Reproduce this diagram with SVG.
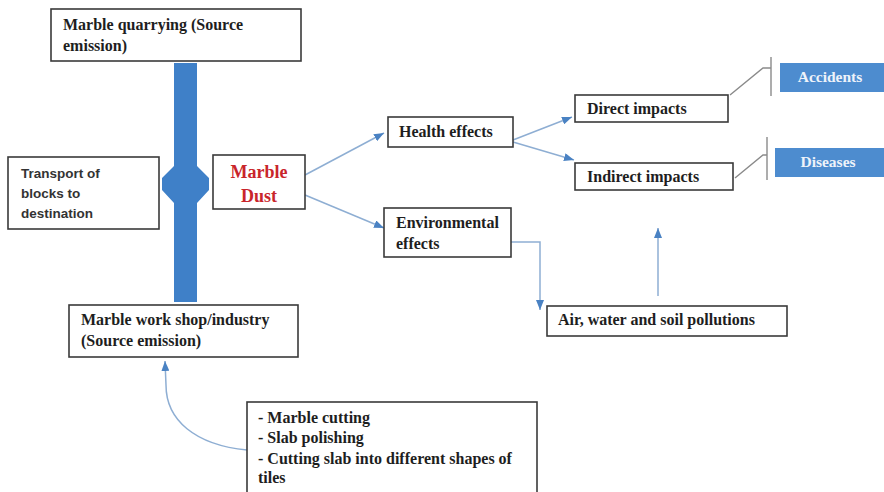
<svg xmlns="http://www.w3.org/2000/svg" width="884" height="492" viewBox="0 0 884 492">
<defs>
<style>
.box{fill:#ffffff;stroke:#3a3a3a;stroke-width:1.6}
.blue{fill:#4d8ccf;stroke:none}
.t{font-family:"Liberation Serif","Times New Roman",serif;font-weight:bold;font-size:16px;fill:#1e1e1e}
.s{font-family:"Liberation Sans",Arial,sans-serif;font-weight:bold;font-size:13.5px;fill:#333333}
.w{font-family:"Liberation Serif","Times New Roman",serif;font-weight:bold;font-size:15.5px;fill:#eef3fa;text-anchor:middle}
.red{font-family:"Liberation Serif","Times New Roman",serif;font-weight:bold;font-size:18px;fill:#c9252b;text-anchor:middle}
.c{fill:none;stroke:#8eaed3;stroke-width:1.5}
.g{fill:none;stroke:#8a8a8a;stroke-width:1.4}
</style>
<marker id="ah" markerUnits="userSpaceOnUse" markerWidth="10" markerHeight="8" viewBox="0 0 10 10" preserveAspectRatio="none" refX="10" refY="5" orient="auto">
<path d="M0,0 L10,5 L0,10 z" fill="#4a82c3"/>
</marker>
</defs>
<rect width="884" height="492" fill="#ffffff"/>

<g id="transport-bar">
<polygon points="174,63 197,63 197,166 209,178 209,190 197,203 197,302 174,302 174,203 162,190 162,178 174,166" fill="#3f80c8"/>
</g>

<g id="connectors">
<path class="c" d="M305,175 L384,133" marker-end="url(#ah)"/>
<path class="c" d="M305,195 L384,228" marker-end="url(#ah)"/>
<path class="c" d="M513,140 L572,117" marker-end="url(#ah)"/>
<path class="c" d="M513,142 L574,160" marker-end="url(#ah)"/>
<path class="c" d="M511,242 L540,242 L540,310" marker-end="url(#ah)"/>
<path class="c" d="M658,296 L658,228" marker-end="url(#ah)"/>
<path class="c" d="M247,450 C195,445 166,420 166,385 L165,361" marker-end="url(#ah)"/>
<polyline class="g" points="730,95 763,68 771,68"/>
<line class="g" x1="771" y1="57" x2="771" y2="96"/>
<polyline class="g" points="735,178 763,155 767,155"/>
<line class="g" x1="767" y1="137" x2="767" y2="180"/>
</g>

<g id="quarrying">
<rect class="box" x="51" y="9" width="250" height="52"/>
<text class="t" x="63" y="30">Marble quarrying (Source</text>
<text class="t" x="63" y="51">emission)</text>
</g>

<g id="transport">
<rect class="box" x="8" y="157" width="151" height="72"/>
<text class="s" x="21" y="178">Transport of</text>
<text class="s" x="21" y="198">blocks to</text>
<text class="s" x="21" y="218">destination</text>
</g>

<g id="marble-dust">
<rect class="box" x="213" y="155" width="92" height="54"/>
<text class="red" x="259" y="178">Marble</text>
<text class="red" x="259" y="202">Dust</text>
</g>

<g id="workshop">
<rect class="box" x="69" y="305" width="229" height="52"/>
<text class="t" x="81" y="325">Marble work shop/industry</text>
<text class="t" x="81" y="346">(Source emission)</text>
</g>

<g id="processes">
<rect class="box" x="247" y="402" width="290" height="100"/>
<text class="t" x="258" y="423">- Marble cutting</text>
<text class="t" x="258" y="443">- Slab polishing</text>
<text class="t" x="258" y="464">- Cutting slab into different shapes of</text>
<text class="t" x="258" y="483">tiles</text>
</g>

<g id="health">
<rect class="box" x="388" y="117" width="125" height="30"/>
<text class="t" x="399" y="137">Health effects</text>
</g>

<g id="environmental">
<rect class="box" x="384" y="208" width="127" height="49"/>
<text class="t" x="396" y="228">Environmental</text>
<text class="t" x="396" y="249">effects</text>
</g>

<g id="direct">
<rect class="box" x="575" y="95" width="153" height="27"/>
<text class="t" x="587" y="114">Direct impacts</text>
</g>

<g id="indirect">
<rect class="box" x="575" y="163" width="158" height="27"/>
<text class="t" x="587" y="182">Indirect impacts</text>
</g>

<g id="pollutions">
<rect class="box" x="547" y="306" width="240" height="30"/>
<text class="t" x="558" y="325">Air, water and soil pollutions</text>
</g>

<g id="accidents">
<rect class="blue" x="780" y="63" width="104" height="29"/>
<text class="w" x="830" y="82">Accidents</text>
</g>

<g id="diseases">
<rect class="blue" x="775" y="148" width="109" height="29"/>
<text class="w" x="828" y="167">Diseases</text>
</g>
</svg>
